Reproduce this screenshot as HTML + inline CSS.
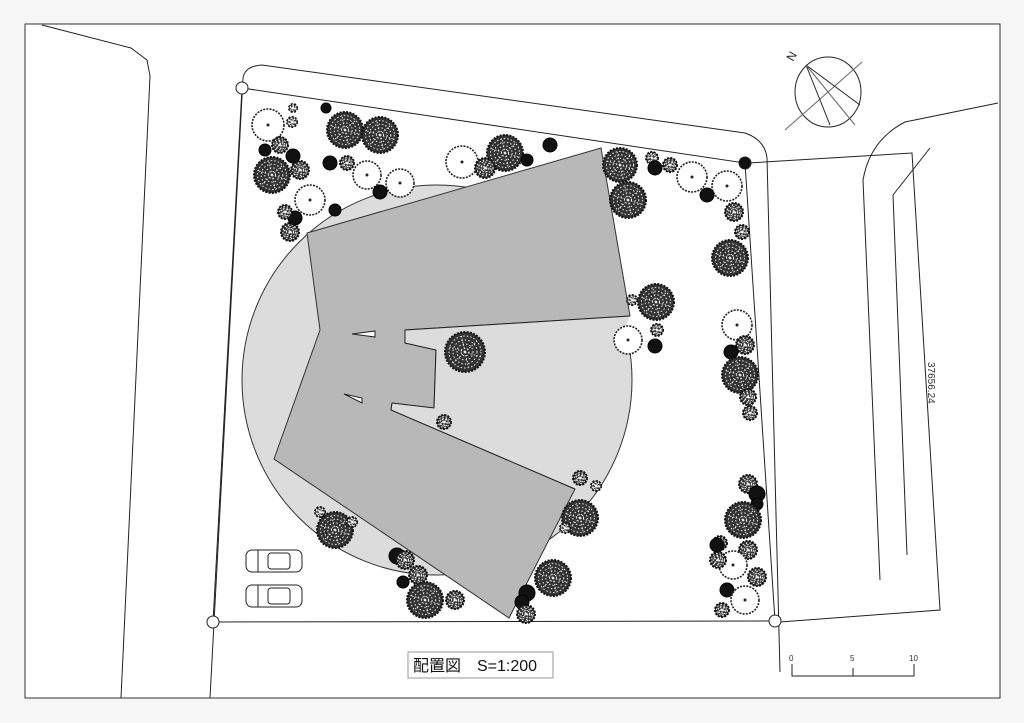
<!DOCTYPE html>
<html><head><meta charset="utf-8"><style>
html,body{margin:0;padding:0;background:#fff;width:1024px;height:723px;overflow:hidden}
svg{display:block}
</style></head><body>
<svg id="s" width="1024" height="723" viewBox="0 0 1024 723" xmlns="http://www.w3.org/2000/svg" fill="none" stroke="#222" stroke-width="1">
<rect x="0" y="0" width="1024" height="723" fill="#f6f6f6" stroke="none"/>
<rect x="25" y="24" width="975" height="674" fill="#fff" stroke="#333"/>
<polyline points="42,25 131,48 147,60 150,76 121,698"/>
<path d="M210,698 L243,78 Q245,66 262,65 L745,133 Q765,140 767,158 L780,672"/>
<path d="M748,163 L912,153 L940,610 L780,622"/>
<path d="M998,103 L905,122 Q870,140 863,180 L880,580"/>
<path d="M930,148 L893,195 L907,555"/>
<text x="0" y="0" transform="translate(928,362) rotate(90)" font-family="Liberation Sans, sans-serif" font-size="10" fill="#333" stroke="none">37656.24</text>
<circle cx="437" cy="380" r="195" fill="#dcdcdc" stroke="#333"/>
<polygon points="307,233 601,148 630,316 405,330 405,343 436,350 434,408 392,403 391,410 575,489 509,618 274,459 320,330" fill="#b8b8b8" stroke="#333"/>
<polygon points="405,330 630,316 620,340 590,470 575,489 391,410 392,403 434,408 436,350 405,343" fill="#dcdcdc" stroke="none"/>
<polyline points="405,330 630,316" />
<polyline points="405,330 405,343 436,350 434,408 392,403 391,410 575,489"/>
<polygon points="352,334 375,331 375,337" fill="#fff"/>
<polygon points="344,394 362,398 362,403" fill="#fff"/>
<polygon points="242,88 745,163 775,621 213,622"/>
<circle cx="242" cy="88" r="6" fill="#fff"/>
<circle cx="213" cy="622" r="6" fill="#fff"/>
<circle cx="775" cy="621" r="6" fill="#fff"/>
<circle cx="745" cy="163" r="6" fill="#111"/>
<ellipse cx="828" cy="92" rx="33" ry="35"/>
<line x1="785" y1="130" x2="862" y2="62" stroke="#666"/>
<line x1="806" y1="65" x2="860" y2="105"/>
<line x1="806" y1="65" x2="830" y2="125"/>
<line x1="806" y1="65" x2="855" y2="125" stroke="#666"/>
<text x="0" y="0" transform="translate(793,62) rotate(-60)" font-family="Liberation Sans, sans-serif" font-size="12" fill="#222" stroke="none">N</text>
<g stroke="#222" fill="#fff">
<rect x="246" y="550" width="56" height="22" rx="6"/><rect x="268" y="553" width="22" height="16" rx="3"/><line x1="258" y1="550" x2="258" y2="572"/>
<rect x="246" y="585" width="56" height="22" rx="6"/><rect x="268" y="588" width="22" height="16" rx="3"/><line x1="258" y1="585" x2="258" y2="607"/>
</g>
<g id="trees"></g>
<rect x="408" y="652" width="145" height="26" fill="#fff" stroke="#999"/>
<text x="413" y="671" font-family="Liberation Sans, Noto Sans CJK JP, sans-serif" font-size="16" fill="#111" stroke="none">配置図　S=1:200</text>
<polyline points="792,664 792,676 914,676 914,664"/>
<line x1="853" y1="668" x2="853" y2="676"/>
<g font-family="Liberation Sans, sans-serif" font-size="8" fill="#333" stroke="none">
<text x="789" y="661">0</text><text x="850" y="661">5</text><text x="909" y="661">10</text></g>
</svg>
<script>
var T=[
['o',268,125,16],['o',310,200,15],['b',272,175,18],['b',345,130,18],['b',380,135,18],['d',265,150,6],['d',293,156,7],['b',300,170,9],['b',280,145,8],['d',330,163,7],['b',347,163,7],['o',367,175,14],['o',400,183,14],['o',462,162,16],['b',505,153,18],['b',485,168,10],['d',380,192,7],['d',335,210,6],['b',290,232,9],['d',295,218,7],['b',285,212,7],['d',550,145,7],['d',326,108,5],['b',292,122,5],['b',293,108,4],['d',527,160,6],['b',620,165,17],['b',628,200,18],['b',652,158,6],['d',655,168,7],['b',670,165,7],['o',692,177,15],['o',727,186,15],['d',707,195,7],['b',734,212,9],['b',742,232,7],['b',730,258,18],['b',656,302,18],['b',632,300,5],['o',628,340,14],['d',655,346,7],['b',657,330,6],['o',737,325,15],['b',745,345,9],['d',731,352,7],['b',740,375,18],['b',748,397,8],['b',750,413,7],['b',465,352,20],['b',444,422,7],['b',748,484,9],['d',757,494,8],['d',757,504,6],['b',743,520,18],['b',720,543,7],['d',717,545,7],['b',748,550,9],['o',733,565,14],['b',718,560,8],['b',757,577,9],['d',727,590,7],['o',745,600,14],['b',722,610,7],['b',580,478,7],['b',596,486,5],['b',580,518,18],['b',565,528,5],['b',335,530,18],['b',320,512,5],['b',352,522,5],['d',397,556,8],['b',405,560,9],['b',418,575,9],['d',403,582,6],['b',425,600,18],['b',455,600,9],['b',553,578,18],['d',527,593,8],['d',522,602,7],['b',526,614,9]];
var g=document.getElementById('trees'),h='';
T.forEach(function(t){var k=t[0],x=t[1],y=t[2],r=t[3];
if(k=='d'){h+='<circle cx="'+x+'" cy="'+y+'" r="'+r+'" fill="#111" stroke="#000"/>';}
else if(k=='o'){h+='<circle cx="'+x+'" cy="'+y+'" r="'+r+'" fill="#fff" stroke="#222" stroke-width="1.6" stroke-dasharray="2 1.2"/><circle cx="'+x+'" cy="'+y+'" r="1" fill="#222"/>';}
else{h+='<circle cx="'+x+'" cy="'+y+'" r="'+r+'" fill="#333" stroke="#111" stroke-width="2" stroke-dasharray="2 1.3"/>';
for(var f=0.8;f>0.1;f-=0.2){h+='<circle cx="'+x+'" cy="'+y+'" r="'+(r*f)+'" stroke="#fff" stroke-width="0.9" stroke-dasharray="1.5 2"/>';}
for(var a=0;a<6;a++){var an=a*Math.PI/3+0.3;h+='<line x1="'+x+'" y1="'+y+'" x2="'+(x+r*0.85*Math.cos(an))+'" y2="'+(y+r*0.85*Math.sin(an))+'" stroke="#fff" stroke-width="0.8" stroke-dasharray="1.5 1.5"/>';}}
});
g.innerHTML=h;
</script>
</body></html>
